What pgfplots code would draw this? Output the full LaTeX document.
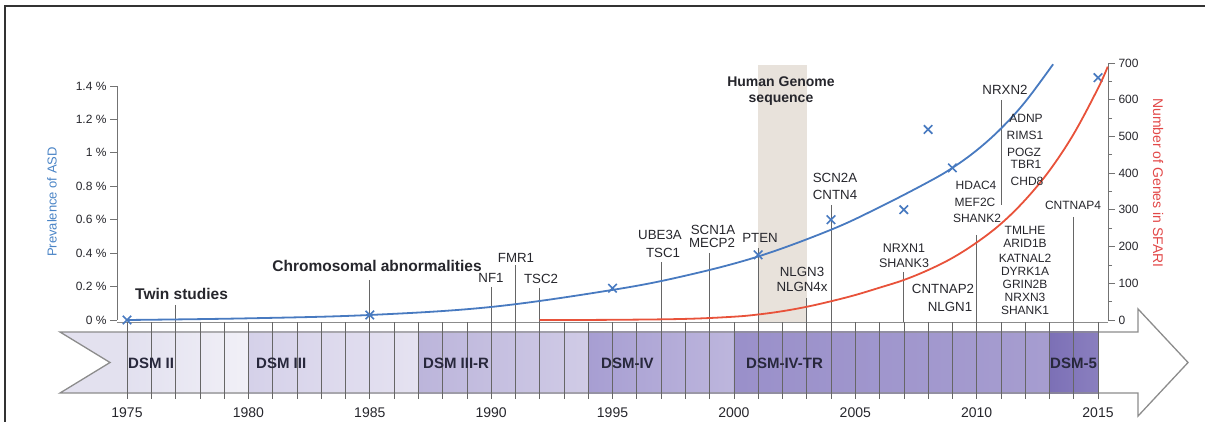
\documentclass[border=0pt]{standalone}
\usepackage{pgfplots}
\pgfplotsset{compat=1.18}
\usepackage{fontspec}
\setmainfont{Liberation Sans}
\definecolor{bluec}{RGB}{72,122,192}
\definecolor{redc}{RGB}{232,82,58}
\definecolor{bluelab}{RGB}{74,132,198}
\definecolor{redlab}{RGB}{226,72,72}
\definecolor{genome}{RGB}{232,226,219}
\definecolor{txt}{RGB}{38,38,44}
\definecolor{dsmtxt}{RGB}{40,40,60}
\definecolor{band0}{RGB}{227,225,239}
\definecolor{dIIa}{RGB}{226,224,239}\definecolor{dIIb}{RGB}{241,240,247}
\definecolor{dIIIa}{RGB}{213,209,233}\definecolor{dIIIb}{RGB}{229,226,241}
\definecolor{dIIIRa}{RGB}{188,181,219}\definecolor{dIIIRb}{RGB}{208,203,230}
\definecolor{dIVa}{RGB}{167,158,210}\definecolor{dIVb}{RGB}{189,182,221}
\definecolor{dIVTRa}{RGB}{154,144,202}\definecolor{dIVTRb}{RGB}{166,157,208}
\definecolor{dVa}{RGB}{124,112,182}\definecolor{dVb}{RGB}{138,127,191}
\newcommand{\FS}[1]{\fontsize{#1}{#1}\selectfont}
\begin{document}
\begin{tikzpicture}
\useasboundingbox (0pt,0pt) rectangle (1205pt,422pt);
\draw[black!80, line width=1.8pt] (5pt,0pt) -- (5pt,416pt) -- (1205pt,416pt);
% ---------- left axis: prevalence ----------
\begin{axis}[
  at={(117pt,102pt)}, anchor=south west,
  scale only axis, width=991pt, height=234pt,
  xmin=1974.588, xmax=2015.412, ymin=0, ymax=1.4,
  clip=false,
  axis x line=none, axis y line*=left,
  axis line style={-},
  y axis line style={-, black!55, line width=1pt},
  ytick={0,0.2,0.4,0.6,0.8,1,1.2,1.4},
  yticklabels={0 \%,0.2 \%,0.4 \%,0.6 \%,0.8 \%,1 \%,1.2 \%,1.4 \%},
  yticklabel style={font=\FS{12}, text=txt},
  tick align=outside, major tick length=7pt,
  every tick/.style={black!55, line width=0.8pt},
]
% Human genome sequence column
\fill[genome] (axis cs:2001,-0.012) rectangle (axis cs:2003,1.526);
% timeline band
\fill[band0] (axis cs:1972.24,-0.0718) -- (axis cs:1975,-0.0718) -- (axis cs:1975,-0.4369) -- (axis cs:1972.24,-0.4369) -- (axis cs:1974.30,-0.2543) -- cycle;
\fill[left color=dIIa, right color=dIIb] (axis cs:1975,-0.0718) rectangle (axis cs:1980,-0.4369);
\fill[left color=dIIIa, right color=dIIIb] (axis cs:1980,-0.0718) rectangle (axis cs:1987,-0.4369);
\fill[left color=dIIIRa, right color=dIIIRb] (axis cs:1987,-0.0718) rectangle (axis cs:1994,-0.4369);
\fill[left color=dIVa, right color=dIVb] (axis cs:1994,-0.0718) rectangle (axis cs:2000,-0.4369);
\fill[left color=dIVTRa, right color=dIVTRb] (axis cs:2000,-0.0718) rectangle (axis cs:2013,-0.4369);
\fill[left color=dVa, right color=dVb] (axis cs:2013,-0.0718) rectangle (axis cs:2015,-0.4369);
\draw[black!45, line width=1.3pt, line join=miter] (axis cs:1972.24,-0.0718) -- (axis cs:2016.65,-0.0718) -- (axis cs:2016.65,0.0658) -- (axis cs:2018.71,-0.2543) -- (axis cs:2016.65,-0.5745) -- (axis cs:2016.65,-0.4369) -- (axis cs:1972.24,-0.4369) -- (axis cs:1974.30,-0.2543) -- cycle;
% baseline
\draw[black!45, line width=0.8pt] (axis cs:1974.588,-0.012) -- (axis cs:2015.412,-0.012);
% year lines
\pgfplotsinvokeforeach{1975,...,2015}{
  \draw[black!60, line width=0.6pt] (axis cs:#1,-0.012) -- (axis cs:#1,-0.4728);
}
% annotation lines
\draw[black!60, line width=0.8pt] (axis cs:1977,0.0898) -- (axis cs:1977,-0.012);
\draw[black!60, line width=0.8pt] (axis cs:1985,0.2394) -- (axis cs:1985,-0.012);
\draw[black!60, line width=0.8pt] (axis cs:1990,0.1975) -- (axis cs:1990,-0.012);
\draw[black!60, line width=0.8pt] (axis cs:1991,0.3291) -- (axis cs:1991,-0.012);
\draw[black!60, line width=0.8pt] (axis cs:1992,0.1915) -- (axis cs:1992,-0.012);
\draw[black!60, line width=0.8pt] (axis cs:1997,0.3471) -- (axis cs:1997,-0.012);
\draw[black!60, line width=0.8pt] (axis cs:1999,0.4010) -- (axis cs:1999,-0.012);
\draw[black!60, line width=0.8pt] (axis cs:2001,0.4309) -- (axis cs:2001,-0.012);
\draw[black!60, line width=0.8pt] (axis cs:2003,0.1317) -- (axis cs:2003,-0.012);
\draw[black!60, line width=0.8pt] (axis cs:2004,0.6882) -- (axis cs:2004,-0.012);
\draw[black!60, line width=0.8pt] (axis cs:2007,0.2873) -- (axis cs:2007,-0.012);
\draw[black!60, line width=0.8pt] (axis cs:2010,0.5087) -- (axis cs:2010,-0.012);
\draw[black!60, line width=0.8pt] (axis cs:2011,1.3166) -- (axis cs:2011,0.6882);
\draw[black!60, line width=0.8pt] (axis cs:2014,0.6164) -- (axis cs:2014,-0.012);
% prevalence curve and data
\addplot[bluec, line width=1.8pt, smooth, tension=0.6] coordinates {
  (1975,0.0) (1980,0.010) (1985,0.030) (1990,0.078) (1995,0.180) (1998,0.265)
  (2001,0.380) (2004,0.540) (2006,0.675) (2008,0.825) (2009,0.910) (2010,1.015)
  (2011,1.145) (2012,1.305) (2013.15,1.530)};
\addplot[only marks, mark=x, mark size=6pt, bluec, line width=1.6pt] coordinates {
  (1975,0) (1985,0.03) (1995,0.19) (2001,0.39) (2004,0.60) (2007,0.66)
  (2008,1.14) (2009,0.91) (2015,1.45)};
\end{axis}
% ---------- right axis: SFARI genes ----------
\begin{axis}[
  at={(117pt,102pt)}, anchor=south west,
  scale only axis, width=991pt, height=257pt,
  xmin=1974.588, xmax=2015.412, ymin=0, ymax=700,
  clip=false,
  axis x line=none, axis y line*=right,
  axis line style={-},
  y axis line style={-, black!55, line width=1pt},
  ytick={0,100,...,700}, minor ytick={50,150,...,650},
  yticklabel style={font=\FS{12}, text=txt},
  /pgf/number format/assume math mode=true,
  tick align=outside, major tick length=7pt, minor tick length=4pt,
  every tick/.style={black!55, line width=0.8pt},
]
\addplot[redc, line width=1.8pt, smooth, tension=0.6] coordinates {
  (1992,0) (1995,0.5) (1998,3) (2000,9) (2001,15) (2002,24) (2003,36)
  (2004,51) (2005,68) (2006,88) (2007,109) (2008,136) (2009,169) (2010,211)
  (2011,262) (2012,327) (2013,407) (2014,507) (2015,631) (2015.4,690)};
\end{axis}
% ---------- texts ----------
\node[rotate=90, text=bluelab, font=\FS{13}] at (52pt,220pt) {Prevalence of ASD};
\node[rotate=-90, text=redlab, font=\FS{14}] at (1158pt,239pt) {Number of Genes in SFARI};
\begin{scope}[every node/.style={inner sep=0pt, text=txt}]
\node[font=\bfseries\FS{15.5}, anchor=west] at (135pt,128pt) {Twin studies};
\node[font=\bfseries\FS{15.5}] at (377pt,156pt) {Chromosomal abnormalities};
\node[font=\bfseries\FS{14}] at (781pt,340pt) {Human Genome};
\node[font=\bfseries\FS{14}] at (781pt,322pt) {sequence};
\node[font=\FS{13.3}] at (491pt,144pt) {NF1};
\node[font=\FS{13.3}] at (516pt,164pt) {FMR1};
\node[font=\FS{13.3}] at (541pt,143pt) {TSC2};
\node[font=\FS{13.3}] at (660pt,187pt) {UBE3A};
\node[font=\FS{13.3}] at (663pt,169pt) {TSC1};
\node[font=\FS{13.3}] at (713pt,192pt) {SCN1A};
\node[font=\FS{13.3}] at (712pt,179pt) {MECP2};
\node[font=\FS{13.3}] at (760pt,184pt) {PTEN};
\node[font=\FS{13.3}] at (802pt,150pt) {NLGN3};
\node[font=\FS{13.3}] at (802pt,135pt) {NLGN4x};
\node[font=\FS{13.3}] at (835pt,244pt) {SCN2A};
\node[font=\FS{13.3}] at (835pt,227pt) {CNTN4};
\node[font=\FS{12.5}] at (904pt,174pt) {NRXN1};
\node[font=\FS{12.5}] at (904pt,159pt) {SHANK3};
\node[font=\FS{13.3}] at (943pt,133pt) {CNTNAP2};
\node[font=\FS{13.3}] at (950pt,115pt) {NLGN1};
\node[font=\FS{12}] at (976pt,237pt) {HDAC4};
\node[font=\FS{12}] at (975pt,220pt) {MEF2C};
\node[font=\FS{12}] at (977pt,204pt) {SHANK2};
\node[font=\FS{13.3}] at (1005pt,332pt) {NRXN2};
\node[font=\FS{12}] at (1026pt,304pt) {ADNP};
\node[font=\FS{12}] at (1025pt,287pt) {RIMS1};
\node[font=\FS{12}] at (1024pt,270pt) {POGZ};
\node[font=\FS{12}] at (1026pt,258pt) {TBR1};
\node[font=\FS{12}] at (1027pt,241pt) {CHD8};
\node[font=\FS{12}] at (1025pt,192pt) {TMLHE};
\node[font=\FS{12}] at (1025pt,179pt) {ARID1B};
\node[font=\FS{12}] at (1025pt,164pt) {KATNAL2};
\node[font=\FS{12}] at (1025pt,151pt) {DYRK1A};
\node[font=\FS{12}] at (1025pt,138pt) {GRIN2B};
\node[font=\FS{12}] at (1025pt,125pt) {NRXN3};
\node[font=\FS{12}] at (1025pt,112pt) {SHANK1};
\node[font=\FS{12}] at (1073pt,217pt) {CNTNAP4};
% DSM labels
\node[font=\bfseries\FS{15}, text=dsmtxt, anchor=west] at (128pt,59pt) {DSM II};
\node[font=\bfseries\FS{15}, text=dsmtxt, anchor=west] at (256pt,59pt) {DSM III};
\node[font=\bfseries\FS{15}, text=dsmtxt, anchor=west] at (423pt,59pt) {DSM III-R};
\node[font=\bfseries\FS{15}, text=dsmtxt, anchor=west] at (601pt,59pt) {DSM-IV};
\node[font=\bfseries\FS{15}, text=dsmtxt, anchor=west] at (746pt,59pt) {DSM-IV-TR};
\node[font=\bfseries\FS{15}, text=dsmtxt, anchor=west] at (1050pt,59pt) {DSM-5};
% year labels
\node[font=\FS{14}] at (127pt,9pt) {1975};
\node[font=\FS{14}] at (248.4pt,9pt) {1980};
\node[font=\FS{14}] at (369.8pt,9pt) {1985};
\node[font=\FS{14}] at (491.1pt,9pt) {1990};
\node[font=\FS{14}] at (612.5pt,9pt) {1995};
\node[font=\FS{14}] at (733.9pt,9pt) {2000};
\node[font=\FS{14}] at (855.3pt,9pt) {2005};
\node[font=\FS{14}] at (976.6pt,9pt) {2010};
\node[font=\FS{14}] at (1098pt,9pt) {2015};
\end{scope}
\end{tikzpicture}
\end{document}
